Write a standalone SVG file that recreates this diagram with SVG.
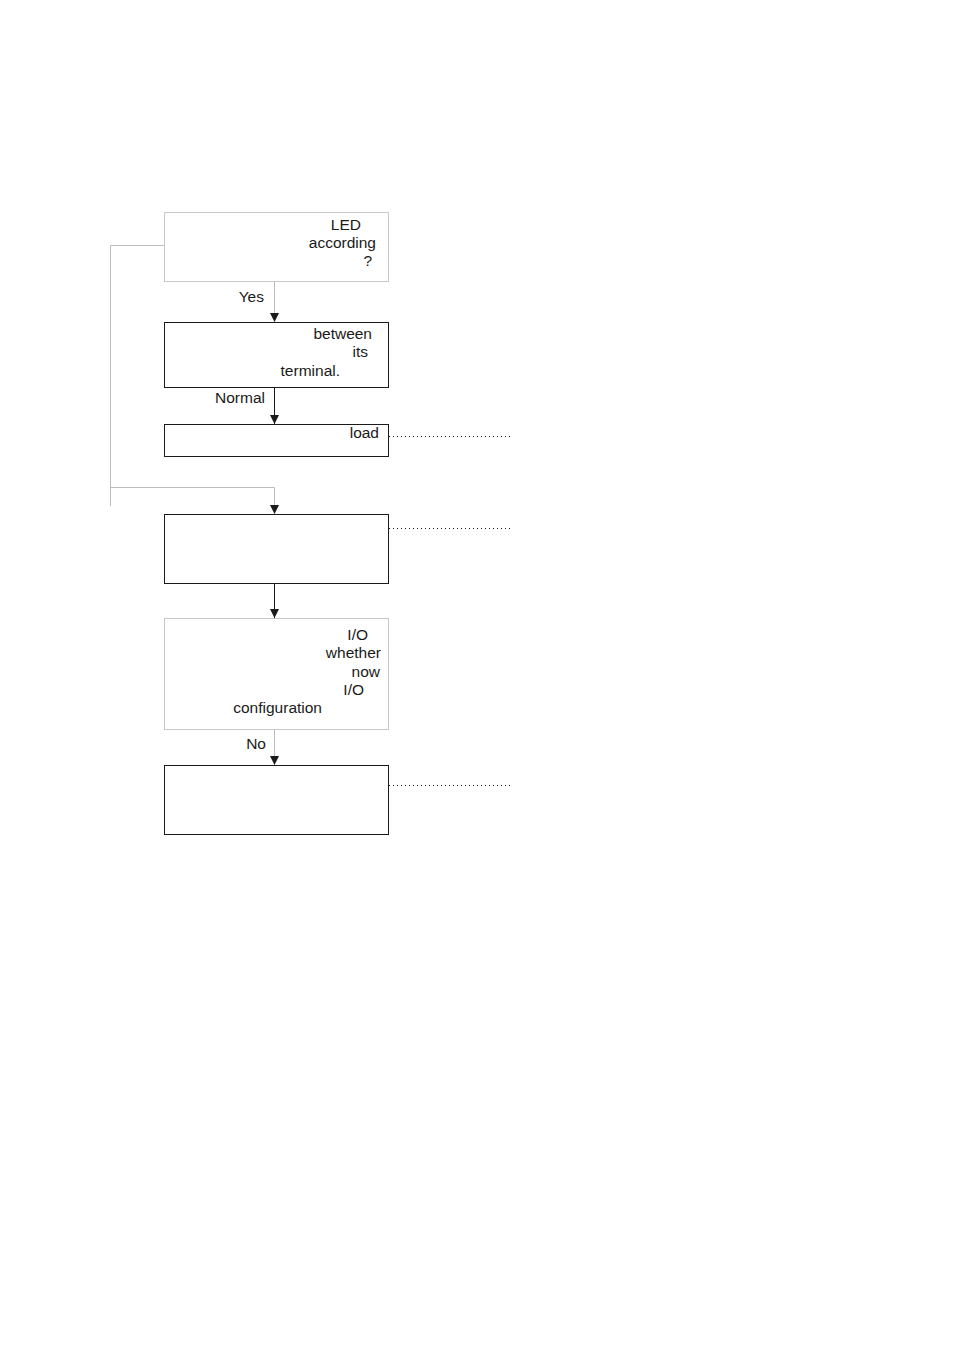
<svg xmlns="http://www.w3.org/2000/svg" width="954" height="1348" viewBox="0 0 954 1348">
<defs>
<style>
text{font-family:"Liberation Sans",Arial,sans-serif;font-size:15.5px;fill:#1a1a1a}
.r{text-anchor:end}
.bk{fill:#fff;stroke:#1a1a1a;stroke-width:1}
.gy{fill:#fff;stroke:#c8c8c8;stroke-width:1}
.lk{fill:none;stroke:#1a1a1a;stroke-width:1}
.lg{fill:none;stroke:#bdbdbd;stroke-width:1}
.dot{fill:none;stroke:#1a1a1a;stroke-width:1;stroke-dasharray:1 3}
</style>
<marker id="ah" viewBox="0 0 10 10" refX="10" refY="5" markerWidth="9" markerHeight="9" markerUnits="userSpaceOnUse" orient="auto">
<path d="M0,0L10,5L0,10z" fill="#1a1a1a"/>
</marker>
</defs>
<rect width="954" height="1348" fill="#fff"/>
<g id="connectors">
<path class="lg" d="M164,245.5H110.5V506"/>
<path class="lg" d="M110,487.5H274.5V514" marker-end="url(#ah)"/>
<path class="lg" d="M274.5,281V322" marker-end="url(#ah)"/>
<path class="lk" d="M274.5,387V424" marker-end="url(#ah)"/>
<path class="lk" d="M274.5,581V618" marker-end="url(#ah)"/>
<path class="lg" d="M274.5,729V765" marker-end="url(#ah)"/>
<path class="dot" d="M389,436.5H510"/>
<path class="dot" d="M389,528.5H510"/>
<path class="dot" d="M389,785.5H510"/>
<text x="264" y="302" class="r">Yes</text>
<text x="265" y="403" class="r">Normal</text>
<text x="266" y="749" class="r">No</text>
</g>
<g id="n1">
<rect class="gy" x="164.5" y="212.5" width="224" height="69"/>
<text x="361" y="230" class="r">LED</text>
<text x="376" y="248" class="r">according</text>
<text x="372" y="266" class="r">?</text>
</g>
<g id="n2">
<rect class="bk" x="164.5" y="322.5" width="224" height="65"/>
<text x="372" y="339" class="r">between</text>
<text x="368" y="357" class="r">its</text>
<text x="340" y="376" class="r">terminal.</text>
</g>
<g id="n3">
<rect class="bk" x="164.5" y="424.5" width="224" height="32"/>
<text x="379" y="438" class="r">load</text>
</g>
<g id="n4">
<rect class="bk" x="164.5" y="514.5" width="224" height="69"/>
</g>
<g id="n5">
<rect class="gy" x="164.5" y="618.5" width="224" height="111"/>
<text x="368" y="640" class="r">I/O</text>
<text x="381" y="658" class="r">whether</text>
<text x="380" y="677" class="r">now</text>
<text x="364" y="695" class="r">I/O</text>
<text x="322" y="713" class="r">configuration</text>
</g>
<g id="n6">
<rect class="bk" x="164.5" y="765.5" width="224" height="69"/>
</g>
</svg>
